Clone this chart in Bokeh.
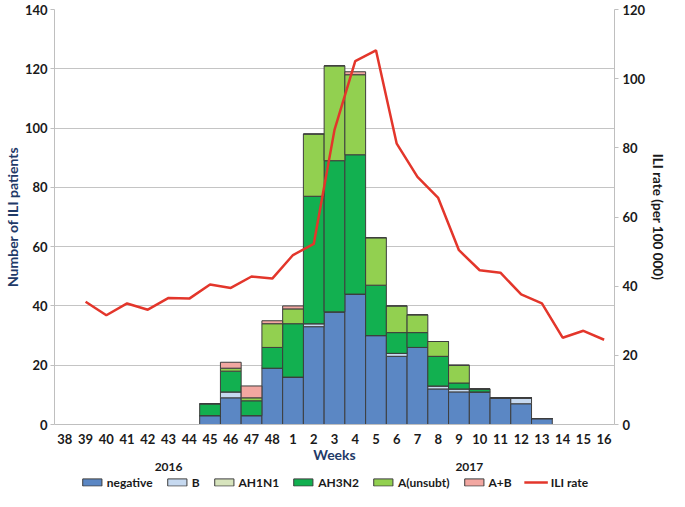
from bokeh.plotting import figure
from bokeh.layouts import column
from bokeh.models import (ColumnDataSource, Range1d, LinearAxis,
                          FixedTicker, Legend, LegendItem)
from bokeh.embed import file_html
from bokeh.resources import INLINE

# ---------------- data ----------------
weeks = ["38", "39", "40", "41", "42", "43", "44", "45", "46", "47", "48",
         "1", "2", "3", "4", "5", "6", "7", "8", "9", "10", "11", "12", "13",
         "14", "15", "16"]

negative = [0, 0, 0, 0, 0, 0, 0, 3, 9, 3, 19, 16, 33, 38, 44, 30, 23, 26, 12, 11, 11, 9, 7, 2, 0, 0, 0]
flu_b    = [0, 0, 0, 0, 0, 0, 0, 0, 2, 0, 0, 0, 1, 0, 0, 0, 1, 0, 1, 1, 0, 0, 2, 0, 0, 0, 0]
ah1n1    = [0, 0, 0, 0, 0, 0, 0, 0, 0, 0, 0, 0, 0, 0, 0, 0, 0, 0, 0, 0, 0, 0, 0, 0, 0, 0, 0]
ah3n2    = [0, 0, 0, 0, 0, 0, 0, 4, 7, 5, 7, 18, 43, 51, 47, 17, 7, 5, 10, 2, 1, 0, 0, 0, 0, 0, 0]
a_unsubt = [0, 0, 0, 0, 0, 0, 0, 0, 1, 1, 8, 5, 21, 32, 27, 16, 9, 6, 5, 6, 0, 0, 0, 0, 0, 0, 0]
a_plus_b = [0, 0, 0, 0, 0, 0, 0, 0, 2, 4, 1, 1, 0, 0, 1, 0, 0, 0, 0, 0, 0, 0, 0, 0, 0, 0, 0]

ili_weeks = ["39", "40", "41", "42", "43", "44", "45", "46", "47", "48",
             "1", "2", "3", "4", "5", "6", "7", "8", "9", "10", "11", "12", "13",
             "14", "15", "16"]
ili_rate = [35.5, 31.6, 35.0, 33.2, 36.6, 36.4, 40.5, 39.5, 42.8, 42.2,
            49.0, 52.2, 85.2, 105.1, 108.2, 81.2, 71.6, 65.5, 50.4, 44.6, 43.9, 37.6, 35.0,
            25.1, 27.1, 24.5]

series_names = ["negative", "B", "AH1N1", "AH3N2", "A(unsubt)", "A+B"]
series_values = [negative, flu_b, ah1n1, ah3n2, a_unsubt, a_plus_b]
series_colors = ["#5b87c4", "#c6d9f0", "#d7e4bd", "#12b050", "#92d050", "#f2a7a1"]

years = ["2016", "2017"]
year_pos = [5.5, 20.0]   # label positions along the week slots

left_ticks = list(range(0, 141, 20))
right_ticks = list(range(0, 121, 20))

FONT = "Lato"
TXT = "#1a1a1a"
NAVY = "#1f3a68"
GRID = "#c4c4c4"
OUTLINE = "#3d3d3d"
RED = "#e3362b"

# slot centres for the categorical weeks
centre = {w: i + 0.5 for i, w in enumerate(weeks)}
totals = [sum(col) for col in zip(*series_values)]

# ---------------- main figure ----------------
p = figure(width=669, height=473, x_range=Range1d(0, len(weeks)),
           y_range=Range1d(0, 140), output_backend="svg", toolbar_location=None,
           min_border_left=0, min_border_right=0, min_border_top=9,
           min_border_bottom=0)
p.outline_line_color = None
p.background_fill_color = "white"
p.extra_y_ranges = {"rate": Range1d(0, 120)}

# stacked bars (only weeks that have any specimens)
bottoms = [0] * len(weeks)
bar_sources = []
for name, vals, col in zip(series_names, series_values, series_colors):
    xs, bs, ts = [], [], []
    for i, (w, v) in enumerate(zip(weeks, vals)):
        if totals[i] > 0:
            xs.append(centre[w])
            bs.append(bottoms[i])
            ts.append(bottoms[i] + v)
        bottoms[i] += v
    src = ColumnDataSource(dict(x=xs, bottom=bs, top=ts))
    bar_sources.append(src)
    p.vbar(x="x", bottom="bottom", top="top", width=1.0, source=src,
           fill_color=col, line_color=OUTLINE, line_width=1)

# ILI rate line
line_src = ColumnDataSource(dict(x=[centre[w] for w in ili_weeks], y=ili_rate))
p.line(x="x", y="y", source=line_src, y_range_name="rate",
       line_color=RED, line_width=2.5)

# left axis
ya = p.yaxis[0]
ya.ticker = FixedTicker(ticks=left_ticks)
ya.axis_label = "Number of ILI patients"
ya.axis_label_text_font = FONT
ya.axis_label_text_font_style = "bold"
ya.axis_label_text_font_size = "14px"
ya.axis_label_text_color = NAVY
ya.axis_label_standoff = 1
ya.major_label_text_font = FONT
ya.major_label_text_font_style = "bold"
ya.major_label_text_font_size = "13px"
ya.major_label_text_color = TXT
ya.major_label_standoff = 3
ya.axis_line_color = "#bfbfbf"
ya.major_tick_line_color = "#bfbfbf"
ya.major_tick_out = 4
ya.major_tick_in = 0
ya.minor_tick_line_color = None

# right axis
ra = LinearAxis(y_range_name="rate", ticker=FixedTicker(ticks=right_ticks),
                axis_label="ILI rate (per 100 000)")
ra.axis_label_text_font = FONT
ra.axis_label_text_font_style = "bold"
ra.axis_label_text_font_size = "13.5px"
ra.axis_label_text_color = TXT
ra.axis_label_standoff = 2
ra.major_label_text_font = FONT
ra.major_label_text_font_style = "bold"
ra.major_label_text_font_size = "13px"
ra.major_label_text_color = TXT
ra.major_label_standoff = 4
ra.axis_line_color = "#bfbfbf"
ra.major_tick_line_color = "#bfbfbf"
ra.major_tick_out = 4
ra.major_tick_in = 0
ra.minor_tick_line_color = None
p.add_layout(ra, "right")

# grid
p.ygrid.ticker = FixedTicker(ticks=left_ticks)
p.ygrid.grid_line_color = GRID
p.xgrid.visible = False

# bottom axis: week labels
xa = p.xaxis[0]
xa.ticker = FixedTicker(ticks=[centre[w] for w in weeks])
xa.major_label_overrides = {centre[w]: w for w in weeks}
xa.axis_label = "Weeks"
xa.axis_label_text_font = FONT
xa.axis_label_text_font_style = "bold"
xa.axis_label_text_font_size = "14px"
xa.axis_label_text_color = NAVY
xa.axis_label_standoff = -1
xa.major_label_text_font = FONT
xa.major_label_text_font_style = "bold"
xa.major_label_text_font_size = "13px"
xa.major_label_text_color = TXT
xa.major_label_standoff = 9
xa.axis_line_color = "#bfbfbf"
xa.major_tick_line_color = None
xa.major_tick_out = 0
xa.major_tick_in = 0
xa.minor_tick_line_color = None

# year axis
yr = LinearAxis(ticker=FixedTicker(ticks=year_pos),
                major_label_overrides={pos: lab for pos, lab in zip(year_pos, years)})
yr.axis_line_color = None
yr.major_tick_line_color = None
yr.minor_tick_line_color = None
yr.major_tick_out = 0
yr.major_tick_in = 0
yr.major_label_standoff = -3
yr.major_label_text_font = FONT
yr.major_label_text_font_style = "bold"
yr.major_label_text_font_size = "12px"
yr.major_label_text_color = TXT
p.add_layout(yr, "below")

# ---------------- legend strip ----------------
lf = figure(width=669, height=18, x_range=Range1d(0, len(weeks)),
            y_range=Range1d(0, 140), output_backend="svg", toolbar_location=None,
            x_axis_location=None, y_axis_location=None,
            min_border_left=0, min_border_right=0, min_border_top=0,
            min_border_bottom=0)
lf.outline_line_color = None
lf.xgrid.visible = False
lf.ygrid.visible = False
lf.extra_y_ranges = {"rate": Range1d(0, 120)}

legend_items = []
for name, src, col in zip(series_names, bar_sources, series_colors):
    r = lf.vbar(x="x", bottom="bottom", top="top", width=1.0, source=src,
                fill_color=col, line_color=OUTLINE, line_width=1, visible=False)
    legend_items.append(LegendItem(label=name, renderers=[r]))
lr = lf.line(x="x", y="y", source=line_src, y_range_name="rate",
             line_color=RED, line_width=2.5, visible=False)
legend_items.append(LegendItem(label="ILI rate", renderers=[lr]))

legend = Legend(items=legend_items, orientation="horizontal", location="center",
                label_text_font=FONT, label_text_font_style="bold",
                label_text_font_size="12px", label_text_color=TXT,
                glyph_width=24, glyph_height=9, spacing=12, label_standoff=3,
                label_width=5, label_height=14,
                padding=0, margin=0, border_line_color=None,
                background_fill_alpha=0, inactive_fill_alpha=0)
lf.add_layout(legend)

open("out.html", "w").write(file_html(column(p, lf, spacing=0), INLINE))
